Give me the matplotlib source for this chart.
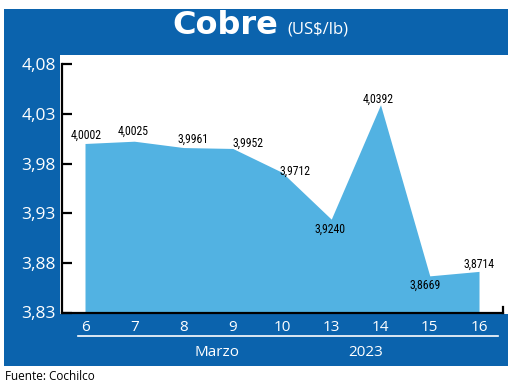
import matplotlib
matplotlib.use("Agg")
import matplotlib.pyplot as plt
from matplotlib.patches import Rectangle
from matplotlib.lines import Line2D
from matplotlib import font_manager

# ---- data ----
days = ["6", "7", "8", "9", "10", "13", "14", "15", "16"]
prices = [4.0002, 4.0025, 3.9961, 3.9952, 3.9712, 3.9240, 4.0392, 3.8669, 3.8714]
price_labels = ["4,0002", "4,0025", "3,9961", "3,9952", "3,9712", "3,9240", "4,0392", "3,8669", "3,8714"]
yticks = [3.83, 3.88, 3.93, 3.98, 4.03, 4.08]
ytick_labels = ["3,83", "3,88", "3,93", "3,98", "4,03", "4,08"]
title_main = "Cobre"
title_unit = "(US$/lb)"
month_label = "Marzo"
year_label = "2023"
source = "Fuente: Cochilco"

# label offsets in points (layout only)
label_offsets = [(1, 6), (-1, 7), (7, 6), (11, 4), (9, 1), (-1, -7), (-2, 4), (-3, -6.5), (0, 5)]

DARK = "#0b63ad"
FILL = "#52b2e2"
W, H = 520, 387

# pick a narrow font for the value labels if one is installed
narrow_family, narrow_stretch, narrow_size = "Liberation Sans", "normal", 7.5
names = {(f.name, f.stretch) for f in font_manager.fontManager.ttflist}
for cand in ["Liberation Sans Narrow", "Roboto Condensed", "Open Sans Condensed", "Noto Sans Condensed"]:
    if any(n == cand for n, _ in names):
        narrow_family, narrow_stretch, narrow_size = cand, "normal", 8.5
        break
else:
    for n, st in names:
        if n in ("Noto Sans", "Open Sans", "DejaVu Sans") and str(st) in ("condensed", "semi-condensed", "extra-condensed", "75", "87.5", "62.5"):
            narrow_family, narrow_stretch, narrow_size = n, st, 8
            break

fig = plt.figure(figsize=(W / 100, H / 100), dpi=100)
fig.patch.set_facecolor("white")

def fx(px):
    return px / W

def fy(py):
    return (H - py) / H

# blue frame and white plotting area
fig.patches.append(Rectangle((fx(4), fy(366)), fx(508) - fx(4), fy(9) - fy(366),
                             transform=fig.transFigure, facecolor=DARK, edgecolor="none", zorder=-2))
fig.patches.append(Rectangle((fx(60), fy(313.5)), fx(520) - fx(60), fy(55) - fy(313.5),
                             transform=fig.transFigure, facecolor="white", edgecolor="none", zorder=-1))

ax = fig.add_axes([fx(62), fy(312.5), fx(503) - fx(62), fy(56) - fy(312.5)])
ax.set_facecolor("none")
ax.set_zorder(2)

x = list(range(len(days)))
ax.fill_between(x, prices, 3.83, color=FILL, linewidth=0, zorder=1)

ax.set_xlim(-0.467, len(days) - 1 + 0.487)
ax.set_ylim(3.83, 4.0883)

for s in ["top", "right"]:
    ax.spines[s].set_visible(False)
ax.spines["left"].set_bounds(3.83, 4.08)
ax.spines["left"].set_linewidth(1.6)
ax.spines["bottom"].set_linewidth(1.6)
ax.spines["left"].set_zorder(3)
ax.spines["bottom"].set_zorder(3)

# right end bracket
ax.plot([1, 1], [0, 0.022], transform=ax.transAxes, color="black", lw=1.6, clip_on=False, zorder=3)

ax.set_yticks(yticks)
ax.set_yticklabels(ytick_labels)
ax.tick_params(axis="y", direction="in", length=7.5, width=1.6, colors="black", pad=4.5,
               labelcolor="white", labelsize=12.5)
for lbl in ax.get_yticklabels():
    lbl.set_family(["Open Sans", "DejaVu Sans"])

ax.set_xticks(x)
ax.set_xticklabels(days)
ax.tick_params(axis="x", length=0, pad=5.5, labelcolor="white", labelsize=11)
for lbl in ax.get_xticklabels():
    lbl.set_family(["Open Sans", "DejaVu Sans"])

for xi, yi, txt, off in zip(x, prices, price_labels, label_offsets):
    ax.annotate(txt, (xi, yi), xytext=off, textcoords="offset points",
                ha="center", va="center", fontsize=narrow_size,
                family=[narrow_family, "DejaVu Sans"], fontstretch=narrow_stretch,
                color="black", zorder=4)

# underline in the bottom band
fig.add_artist(Line2D([fx(78), fx(498)], [fy(336), fy(336)], transform=fig.transFigure,
                      color="white", lw=1.2))
fig.text(fx(217), fy(352), month_label, color="white", fontsize=11, ha="center", va="center",
         family=["Open Sans", "DejaVu Sans"])
fig.text(fx(366), fy(352), year_label, color="white", fontsize=11, ha="center", va="center",
         family=["Open Sans", "DejaVu Sans"])

# title
fig.text(fx(278), fy(34), title_main, color="white", fontsize=23, fontweight="bold",
         ha="right", va="baseline", family=["DejaVu Sans"])
fig.text(fx(287), fy(34), title_unit, color="white", fontsize=12,
         ha="left", va="baseline", family=["Open Sans", "DejaVu Sans"])

# source
fig.text(fx(5), fy(377), source, color="black", fontsize=8.5, ha="left", va="center",
         family=["Open Sans", "DejaVu Sans"])

fig.savefig("out.png", dpi=100, facecolor="white")
